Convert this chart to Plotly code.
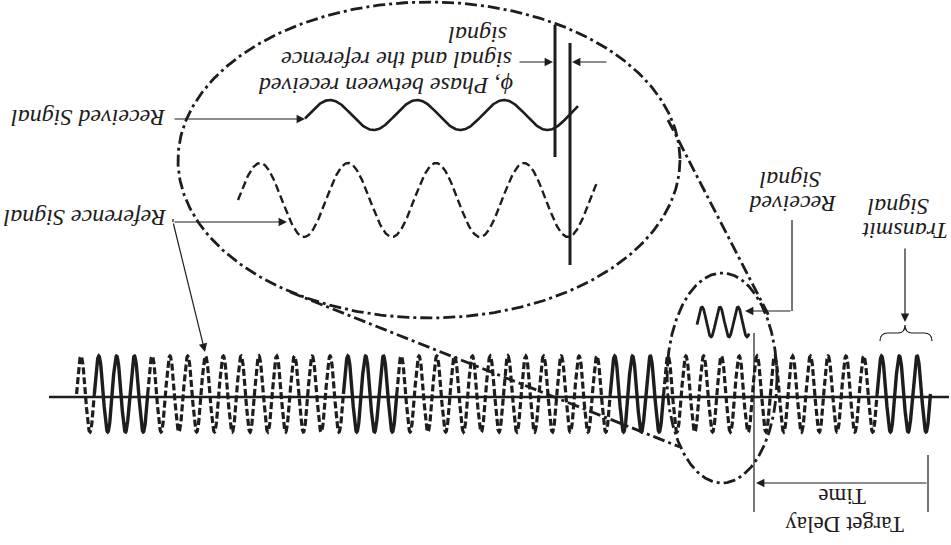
import numpy as np
import plotly.graph_objects as go

W, H = 951, 545
INK = "#1e1c1d"
SERIF = "Liberation Serif"

# ---- main pulse train (in picture pixels) ----
CARRIER_PERIOD = 17.79
TRAIN_FIRST_PEAK = 81
TRAIN_CENTER_Y = 394
TRAIN_AMPLITUDE = 38
SEGMENT_CYCLES = [1, 3, 11, 3, 12, 3, 12, 3]
SEGMENT_STYLES = ["dash", "solid", "dash", "solid", "dash", "solid", "dash", "solid"]
AXIS_LINE_X = [49, 949]
AXIS_LINE_Y = [397, 397]

# ---- inset waves: (x start, x end, x of a peak, period, centre y, amplitude) ----
REFERENCE_WAVE = [238, 597, 260, 88, 200, 37]
RECEIVED_WAVE = [305, 578, 330, 87, 115, 15]
SMALL_RECEIVED_WAVE = [697, 749, 702, 18, 322, 15]

# ---- magnifier ellipses: (centre x, centre y, semi x, semi y) ----
BIG_ELLIPSE = [429, 160, 251, 158]
SMALL_ELLIPSE = [722, 378, 55, 105]
CONNECTOR_LEFT = [[290, 680], [292, 447]]
CONNECTOR_RIGHT = [[668, 769], [120, 316]]

# ---- phase markers ----
PHASE_LINE_A = [[555, 555], [25, 157]]
PHASE_LINE_B = [[570, 570], [43, 265]]

# ---- labels: (text, centre x, centre y, size, italic) ----
LABELS = [
    ("Received Signal", 89, 118, 24, True),
    ("Reference Signal", 85, 218, 24, True),
    ("ϕ, Phase between received", 386, 86, 24, True),
    ("signal and the reference", 397, 60, 24, True),
    ("signal", 478, 35, 24, True),
    ("Signal", 790, 180, 24, True),
    ("Received", 793, 204, 24, True),
    ("Signal", 898, 207, 24, True),
    ("Transmit", 905, 231, 24, True),
    ("Time", 842, 497, 23, False),
    ("Target Delay", 845, 525, 23, False),
]

fig = go.Figure()


def wave(spec, n=600):
    x0, x1, xp, per, cy, amp = spec
    x = np.linspace(x0, x1, n)
    y = cy - amp * np.cos(2 * np.pi * (x - xp) / per)
    return x, y


def line(x, y, width=1.2, dash="solid"):
    fig.add_trace(go.Scatter(x=list(x), y=list(y), mode="lines",
                             line=dict(color=INK, width=width, dash=dash),
                             hoverinfo="skip", showlegend=False))


# axis line
line(AXIS_LINE_X, AXIS_LINE_Y, width=2.6)

# pulse train segments
k = -0.25
for n, style in zip(SEGMENT_CYCLES, SEGMENT_STYLES):
    kk = np.linspace(k, k + n, 60 * n)
    x = TRAIN_FIRST_PEAK + kk * CARRIER_PERIOD
    y = TRAIN_CENTER_Y - TRAIN_AMPLITUDE * np.cos(2 * np.pi * kk)
    if style == "dash":
        line(x, y, width=3.2, dash="7px,3px")
    else:
        line(x, y, width=3.4)
    k += n

# ellipses
DASHDOT = "12px,4px,3px,4px"
for cx, cy, a, b in [BIG_ELLIPSE, SMALL_ELLIPSE]:
    t = np.linspace(0, 2 * np.pi, 400)
    line(cx + a * np.cos(t), cy + b * np.sin(t), width=2.8, dash=DASHDOT)
line(*CONNECTOR_LEFT, width=2.8, dash=DASHDOT)
line(*CONNECTOR_RIGHT, width=2.8, dash=DASHDOT)

# inset waves
line(*wave(REFERENCE_WAVE), width=2.4, dash="8px,4px")
line(*wave(RECEIVED_WAVE), width=2.6)
line(*wave(SMALL_RECEIVED_WAVE), width=2.8)

# phase markers
line(*PHASE_LINE_A, width=3)
line(*PHASE_LINE_B, width=3)

# thin leader lines (no heads)
line([173, 173], [219, 222], width=1.2)
line([792, 792], [220, 311], width=1.2)
line([754, 754], [333, 512], width=1.2)
line([928, 928], [455, 512], width=1.2)

annotations = []


def arrow(x_tail, y_tail, x_head, y_head):
    annotations.append(dict(x=x_head, y=y_head, ax=x_tail, ay=y_tail,
                            xref="x", yref="y", axref="x", ayref="y",
                            text="", showarrow=True, arrowhead=2, arrowsize=1.4,
                            arrowwidth=1.2, arrowcolor=INK, standoff=0, startstandoff=0))


arrow(173, 119, 305, 119)
arrow(173, 222, 287, 222)
arrow(173, 222, 205, 352)
arrow(518, 62, 553, 62)
arrow(608, 62, 572, 62)
arrow(792, 311, 745, 311)
arrow(905, 247, 905, 322)
arrow(928, 483, 756, 483)

for text, x, y, size, italic in LABELS:
    annotations.append(dict(x=x, y=y, xref="x", yref="y", showarrow=False,
                            text=("<i>%s</i>" % text) if italic else text,
                            textangle=180, xanchor="center", yanchor="middle",
                            font=dict(family=SERIF, size=size, color=INK)))

fig.update_layout(
    annotations=annotations,
    shapes=[dict(type="path", xref="x", yref="y",
                 path="M 880 341 Q 880 333 888 333 L 898 333 Q 905 333 905 325 "
                      "Q 905 333 912 333 L 924 333 Q 932 333 932 341",
                 line=dict(color=INK, width=1.2))],
    width=W, height=H, margin=dict(l=0, r=0, t=0, b=0),
    paper_bgcolor="white", plot_bgcolor="white",
    xaxis=dict(range=[0, W], visible=False, fixedrange=True),
    yaxis=dict(range=[H, 0], visible=False, fixedrange=True),
    showlegend=False,
)

fig.write_html("out.html", config={"displayModeBar": False},
               post_script="document.body.style.margin='0';document.body.style.overflow='hidden';")
